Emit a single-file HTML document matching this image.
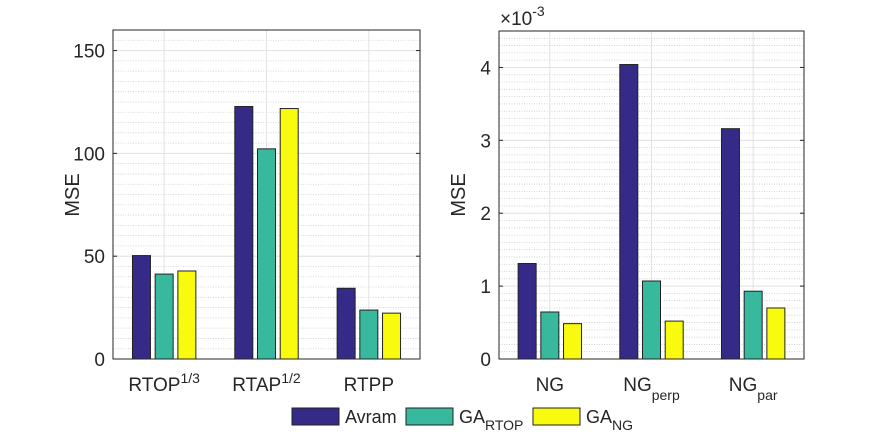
<!DOCTYPE html>
<html><head><meta charset="utf-8"><style>
body{margin:0;background:#fff;}
text{font-family:"Liberation Sans",sans-serif;fill:#262626;}
</style></head><body>
<svg id="c" width="874" height="437" xmlns="http://www.w3.org/2000/svg"></svg>
<script>
const leftCats=["RTOP","RTAP","RTPP"];
const leftSup=["1/3","1/2",""];
const leftAvram=[50.3,122.8,34.4];
const leftGARTOP=[41.3,102.2,23.8];
const leftGANG=[42.8,121.8,22.3];
const leftTicks=[0,50,100,150];
const rightCats=["NG","NG","NG"];
const rightSub=["","perp","par"];
const rightAvram=[1.31,4.04,3.16];
const rightGARTOP=[0.645,1.07,0.93];
const rightGANG=[0.485,0.52,0.70];
const rightTicks=[0,1,2,3,4];
const colors=["#352a87","#38b99e","#f9fb0e"];
const NS="http://www.w3.org/2000/svg";
const svg=document.getElementById('c');
function el(t,a,p){const e=document.createElementNS(NS,t);for(const k in a)e.setAttribute(k,a[k]);(p||svg).appendChild(e);return e;}
function panel(o){
  const g=el('g',{});
  
  
  const y=v=>o.y1-(v/o.ymax)*(o.y1-o.y0);
  const gx=i=>o.x0+(o.x1-o.x0)*(i+0.5)/3;
  el('rect',{x:o.x0,y:o.y0,width:o.x1-o.x0,height:o.y1-o.y0,fill:'#fff'},g);
  for(let v=o.minor;v<o.ymax-1e-9;v+=o.minor){
    const yy=y(v);
    el('line',{x1:o.x0,x2:o.x1,y1:yy,y2:yy,stroke:'#ccc','stroke-width':0.8,'stroke-dasharray':'1,1.5'},g);
  }
  o.ticks.forEach(t=>{const yy=y(t);
    const l=el('line',{x1:o.x0,x2:o.x1,y1:yy,y2:yy,stroke:'#e2e2e2','stroke-width':1},g);
    
    el('line',{x1:o.x0,x2:o.x0+4,y1:yy,y2:yy,stroke:'#262626'},g);
    el('line',{x1:o.x1,x2:o.x1-4,y1:yy,y2:yy,stroke:'#262626'},g);
    const tx=el('text',{x:o.x0-8,y:yy+7,'text-anchor':'end','font-size':19},g);tx.textContent=t;
    
  });
  for(let i=0;i<3;i++){el('line',{x1:gx(i),x2:gx(i),y1:o.y0,y2:o.y1,stroke:'#e2e2e2'},g);}
  const bw=18,step=22.7;
  o.series.forEach((s,si)=>{s.forEach((v,i)=>{
    const cx=gx(i)+(si-1)*step;
    const r=el('rect',{x:cx-bw/2,y:y(v),width:bw,height:o.y1-y(v),fill:colors[si],stroke:'#222','stroke-width':1},g);
    
  });});
  el('rect',{x:o.x0,y:o.y0,width:o.x1-o.x0,height:o.y1-o.y0,fill:'none',stroke:'#262626','stroke-width':1},g);
  o.cats.forEach((c,i)=>{
    const t=el('text',{x:gx(i),y:o.y1+32,'text-anchor':'middle','font-size':19},g);
    
    const a=el('tspan',{},t);a.textContent=c;
    if(o.sup&&o.sup[i]){const b=el('tspan',{'font-size':14,dy:-8},t);b.textContent=o.sup[i];}
    if(o.sub&&o.sub[i]){const b=el('tspan',{'font-size':14,dy:9},t);b.textContent=o.sub[i];}
  });
  const yl=el('text',{x:0,y:0,'text-anchor':'middle','font-size':20,transform:`translate(${o.x0-34},195) rotate(-90)`},g);
  yl.textContent='MSE';
}
panel({name:'left-panel',x0:113,x1:420,y0:30,y1:359,ymax:160,minor:5,ticks:leftTicks,cats:leftCats,sup:leftSup,series:[leftAvram,leftGARTOP,leftGANG],sname:['avram','ga-rtop','ga-ng']});
panel({name:'right-panel',x0:499,x1:804,y0:31,y1:359,ymax:4.5,minor:0.1,ticks:rightTicks,cats:rightCats,sub:rightSub,series:[rightAvram,rightGARTOP,rightGANG],sname:['avram','ga-rtop','ga-ng']});
const ex=el('text',{x:500,y:25,'font-size':19});

const e1=el('tspan',{},ex);e1.textContent='×10';const e2=el('tspan',{'font-size':14,dy:-9},ex);e2.textContent='-3';
const leg=el('g',{});

[[292,'Avram',''],[406,'GA','RTOP'],[533,'GA','NG']].forEach((d,i)=>{
  const r=el('rect',{x:d[0],y:408,width:47,height:17,fill:colors[i],stroke:'#222'},leg);
  
  const t=el('text',{x:d[0]+53,y:423,'font-size':18},leg);
  const a=el('tspan',{},t);a.textContent=d[1];
  if(d[2]){const b=el('tspan',{'font-size':14,dy:7},t);b.textContent=d[2];}
});
</script>
</body></html>
